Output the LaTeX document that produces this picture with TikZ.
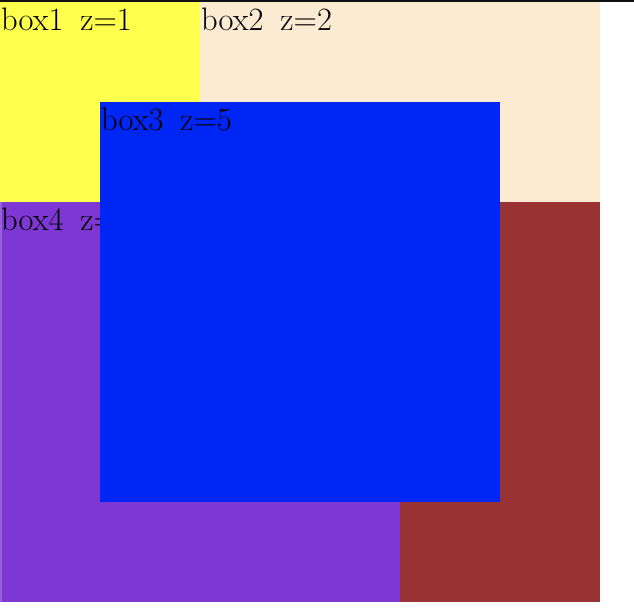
\documentclass[tikz,border=0pt]{standalone}
\usepackage{tikz}
\usepackage{xcolor}
\usetikzlibrary{positioning}
\definecolor{cYel}{HTML}{FFFF4D}
\definecolor{cBsq}{HTML}{FCEBD3}
\definecolor{cBlu}{HTML}{0026F5}
\definecolor{cBrn}{HTML}{993333}
\definecolor{cVio}{HTML}{7D37D2}
\definecolor{cInk}{HTML}{111111}
\newcommand{\boxfont}{\fontsize{32.5}{38}\selectfont\spaceskip=17pt\relax}
\tikzset{
  x=1pt, y=-1pt,
  lbl/.style ={anchor=north west,inner xsep=1pt,inner ysep=5.5pt,
               font=\boxfont,text=black},
}

\begin{document}
\begin{tikzpicture}
\useasboundingbox (0,0) rectangle (634,612);
% top rule
\fill[cInk] (0,0) rectangle (634,1.6);
% boxes, lowest z first
\fill[cYel] (0,2) rectangle (200,202);
\node[lbl] (b1) at (0,2) {box1 z=1};
\fill[cBsq] (200,2) rectangle (600,202);
\node[lbl] (b2) at (200,2) {box2 z=2};
\fill[cBrn] (200,202) rectangle (600,602);
\fill[cVio] (0,202) rectangle (400,602);
\fill[cVio!80!white] (0,202) rectangle (2,602);
\node[lbl] (b4) at (0,202) {box4 z=4};
\fill[cBlu] (100,102) rectangle (500,502);
\node[lbl] (b3) at (100,102) {box3 z=5};
\end{tikzpicture}
\end{document}
